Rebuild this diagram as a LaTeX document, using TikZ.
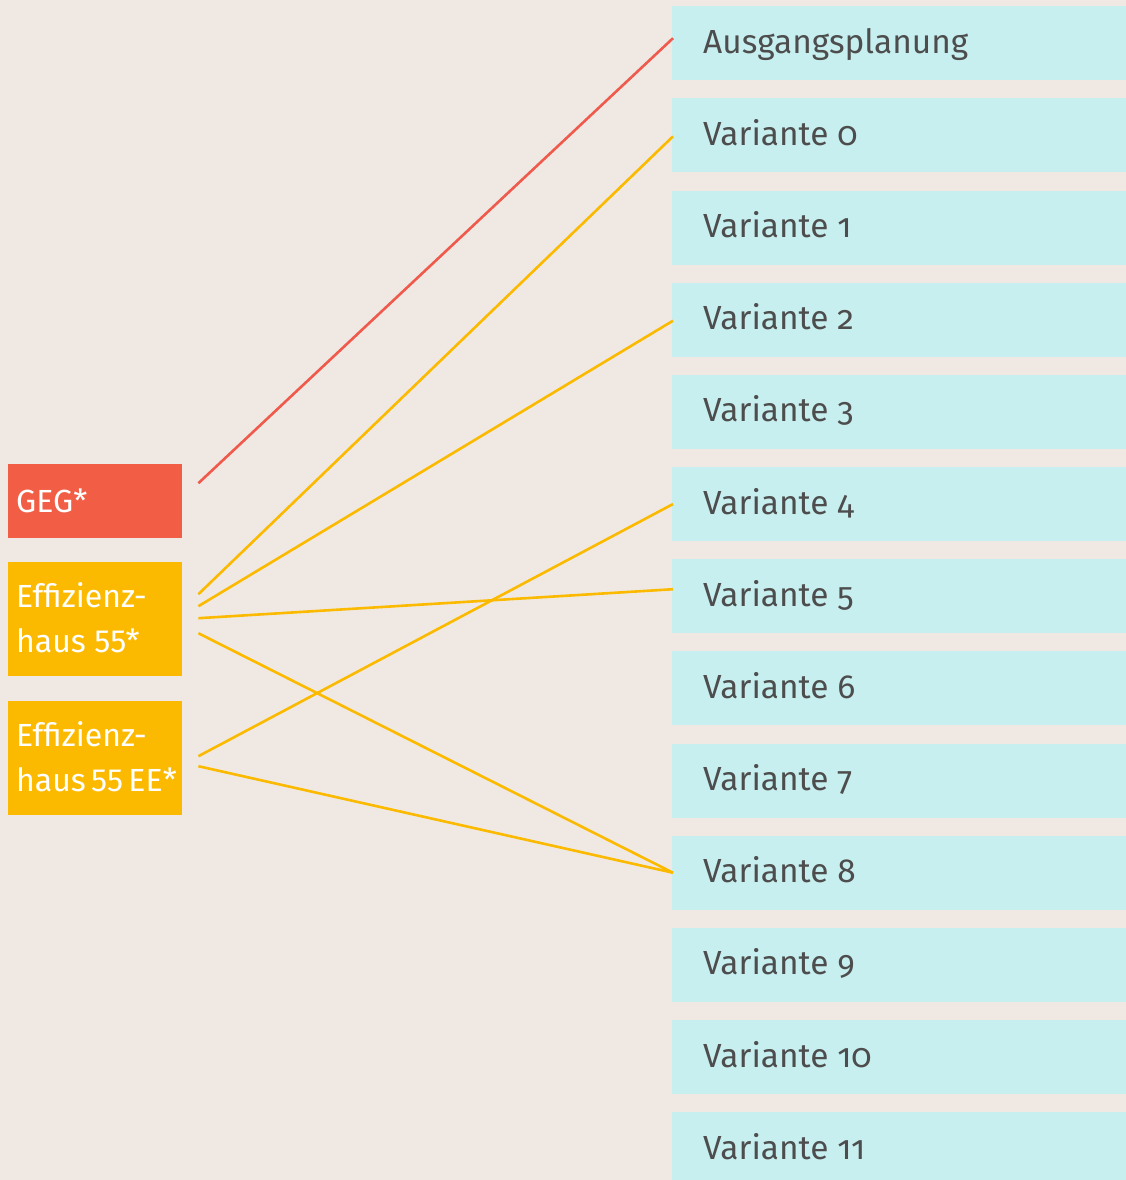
\documentclass[tikz,border=0pt]{standalone}
\usepackage{fontspec}
\setmainfont{Fira Sans}
\newfontfamily\rfont{Fira Sans}[Numbers=OldStyle]
\usetikzlibrary{calc}
\definecolor{bg}{HTML}{F0E9E3}
\definecolor{vbox}{HTML}{C8EFF0}
\definecolor{gegred}{HTML}{F25D45}
\definecolor{effyel}{HTML}{FBBA00}
\definecolor{txt}{HTML}{4D4D4D}
\definecolor{redline}{HTML}{EF5A4C}
\tikzset{
  varbox/.style={fill=vbox, draw=none, anchor=north west, minimum width=454, minimum height=74, inner sep=0pt},
  leftbox/.style={draw=none, anchor=north west, minimum width=174, inner sep=0pt},
  vlabel/.style={anchor=base west, inner sep=0pt, text=txt, font=\rfont\fontsize{33.4}{38}\selectfont},
  llabel/.style={anchor=base west, inner sep=0pt, text=white, font=\fontsize{32}{45}\selectfont, align=left},
  yline/.style={draw=effyel, line width=2.6pt},
  rline/.style={draw=redline, line width=2.6pt}
}
\begin{document}
\begin{tikzpicture}[x=1pt,y=-1pt]
\fill[bg] (0,0) rectangle (1126,1180);
\useasboundingbox (0,0) rectangle (1126,1180);
% right boxes
\foreach \i/\t in {0/Ausgangsplanung,1/Variante 0,2/Variante 1,3/Variante 2,4/Variante 3,5/Variante 4,6/Variante 5,7/Variante 6,8/Variante 7,9/Variante 8,10/Variante 9,11/Variante 10,12/Variante 11}{
  \node[varbox] (r\i) at (672,{6+92.17*\i}) {};
  \node[vlabel] (t\i) at ($(r\i.west)+(31,10)$) {\t};
}
% left boxes
\node[leftbox, fill=gegred, minimum height=74] (geg) at (8,464) {};
\node[llabel] (tgeg) at ($(geg.north west)+(8,48)$) {GEG*};
\node[leftbox, fill=effyel, minimum height=114] (e1) at (8,562) {};
\node[llabel] (te1) at ($(e1.north west)+(8,90)$) {Effizienz-\\haus 55*};
\node[leftbox, fill=effyel, minimum height=114] (e2) at (8,701) {};
\node[llabel] (te2) at ($(e2.north west)+(8,90)$) {Effizienz-\\haus\,55\,EE*};
% connector start points
\coordinate (g0) at ($(geg.east)+(16,-18)$);
\coordinate (a1) at ($(e1.east)+(16,-25)$);
\coordinate (a2) at ($(e1.east)+(16,-13)$);
\coordinate (a3) at ($(e1.east)+(16,-1)$);
\coordinate (a4) at ($(e1.east)+(16,14)$);
\coordinate (b1) at ($(e2.east)+(16,-2)$);
\coordinate (b2) at ($(e2.east)+(16,8)$);
% connectors
\draw[rline] (g0) -- ($(r0.west)+(1,-5)$);
\draw[yline] (a1) -- ($(r1.west)+(1,1)$);
\draw[yline] (a2) -- ($(r3.west)+(1,1)$);
\draw[yline] (a3) -- ($(r6.west)+(1,-7)$);
\draw[yline] (a4) -- ($(r9.west)+(1,0)$);
\draw[yline] (b1) -- ($(r5.west)+(1,0)$);
\draw[yline] (b2) -- ($(r9.west)+(1,0)$);
\end{tikzpicture}
\end{document}
